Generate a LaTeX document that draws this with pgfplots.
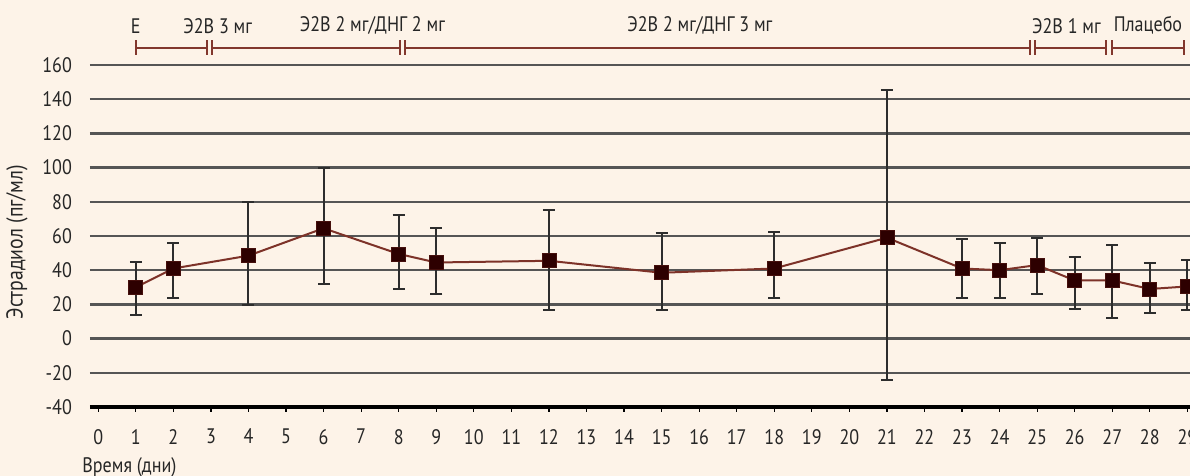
\documentclass[border=0pt]{standalone}
\usepackage{pgfplots}
\pgfplotsset{compat=1.18}
\usepackage{pgfplotstable}
\usepackage{fontspec}
\setmainfont{PT Sans}[FakeStretch=0.86]
\definecolor{bg}{RGB}{253,243,232}
\definecolor{gridc}{RGB}{85,85,85}
\definecolor{ln}{RGB}{125,50,40}
\definecolor{mk}{RGB}{45,0,0}
\definecolor{br}{RGB}{130,55,45}
\definecolor{ebar}{RGB}{45,45,45}

\pgfplotstableread{
x  y    ep    em
1  30   15    16
2  41   15    17
4  48.5 31.5  29
6  64.5 35    32.5
8  49.5 23    20.5
9  44.5 20    18.5
12 45.5 29.5  28.5
15 38.5 23.5  21.5
18 41   21.5  17.5
21 59   86.5  83.5
23 41   17    17
24 40   16    16
25 43   16    17
26 34   14    16.5
27 34   21    22
28 29   15    14
29 30.5 15.5  13.5
}\estr

\begin{document}
\begin{tikzpicture}[x=0.5pt,y=0.5pt,font=\fontsize{10.5}{12}\selectfont]
\useasboundingbox[fill=bg] (0,0) rectangle (1190,476);
\begin{axis}[
  at={(45pt,34.5pt)}, anchor=south west,
  scale only axis, width=550pt, height=171pt,
  xmin=-0.22, xmax=29.07, ymin=-40, ymax=160,
  xtick={0,...,29}, ytick={-40,-20,...,160},
  axis lines*=left,
  x axis line style={line width=2pt, black},
  y axis line style={draw=none},
  ytick style={draw=none},
  xtick style={black, line width=0.6pt},
  tick align=outside,
  major tick length=2.5pt,
  ymajorgrids,
  grid style={gridc, line width=1.2pt},
  /pgf/number format/assume math mode=true,
  ticklabel style={text=black!85},
  yticklabel style={xshift=-3pt},
  xticklabel style={yshift=-5pt},
  clip=false,
]
\addplot[ln, line width=1pt, mark=square*, mark size=3.5pt,
  mark options={fill=mk, draw=mk!70!ln, line width=0.4pt},
  error bars/.cd, y dir=both, y explicit,
  error bar style={ebar, line width=1pt},
  error mark options={ebar, line width=1pt, mark size=3pt, rotate=90}]
  table[x=x, y=y, y error plus=ep, y error minus=em] {\estr};

% treatment period brackets
\draw[br, line width=1pt] (axis cs:1,170) -- (axis cs:2.9,170);
\draw[br, line width=1pt] (axis cs:3.04,170) -- (axis cs:8.03,170);
\draw[br, line width=1pt] (axis cs:8.17,170) -- (axis cs:24.8,170);
\draw[br, line width=1pt] (axis cs:24.94,170) -- (axis cs:26.84,170);
\draw[br, line width=1pt] (axis cs:26.99,170) -- (axis cs:28.91,170);
\draw[br, line width=1pt] (axis cs:1,166) -- (axis cs:1,174.5);
\draw[br, line width=1pt] (axis cs:2.9,166) -- (axis cs:2.9,174.5);
\draw[br, line width=1pt] (axis cs:3.04,166) -- (axis cs:3.04,174.5);
\draw[br, line width=1pt] (axis cs:8.03,166) -- (axis cs:8.03,174.5);
\draw[br, line width=1pt] (axis cs:8.17,166) -- (axis cs:8.17,174.5);
\draw[br, line width=1pt] (axis cs:24.8,166) -- (axis cs:24.8,174.5);
\draw[br, line width=1pt] (axis cs:24.94,166) -- (axis cs:24.94,174.5);
\draw[br, line width=1pt] (axis cs:26.84,166) -- (axis cs:26.84,174.5);
\draw[br, line width=1pt] (axis cs:26.99,166) -- (axis cs:26.99,174.5);
\draw[br, line width=1pt] (axis cs:28.91,166) -- (axis cs:28.91,174.5);
\node[text=black!85] at (axis cs:1,183) {Е};
\node[text=black!85] at (axis cs:3.18,183) {Э2В 3 мг};
\node[text=black!85] at (axis cs:7.3,183) {Э2В 2 мг/ДНГ 2 мг};
\node[text=black!85] at (axis cs:16.02,183) {Э2В 2 мг/ДНГ 3 мг};
\node[text=black!85] at (axis cs:25.78,183) {Э2В 1 мг};
\node[text=black!85] at (axis cs:27.95,183) {Плацебо};
\end{axis}
\node[text=black!85, anchor=west, inner sep=0pt] at (82,9) {Время (дни)};
\node[text=black!85, rotate=90, font=\fontsize{11.5}{13}\selectfont] at (17,234) {Эстрадиол (пг/мл)};
\end{tikzpicture}
\end{document}
